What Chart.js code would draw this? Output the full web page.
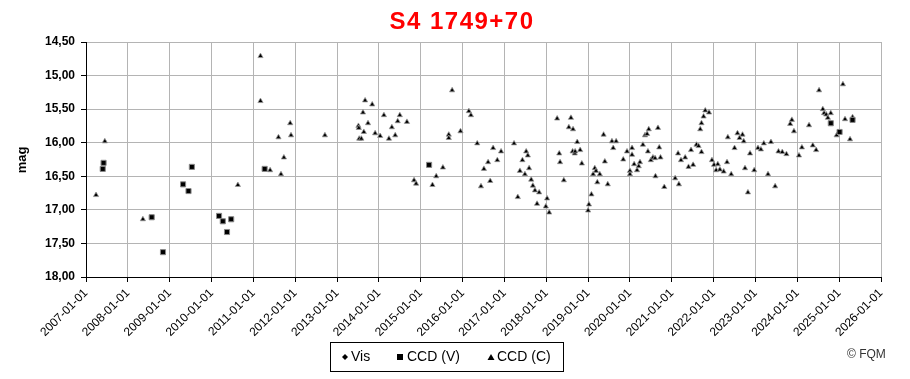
<!DOCTYPE html>
<html>
<head>
<meta charset="utf-8">
<script src="https://cdn.jsdelivr.net/npm/chart.js@4/dist/chart.umd.min.js"></script>
<style>
html,body{margin:0;padding:0;background:#fff;}
#wrap{width:910px;height:379px;position:relative;}
</style>
</head>
<body>
<div id="wrap"><canvas id="c" width="910" height="379"></canvas></div>
<script>
const TITLE = 'S4 1749+70';
const Y_LABEL = 'mag';
const X_MIN = 2007, X_MAX = 2026;
const Y_MIN = 14.5, Y_MAX = 18.0, Y_STEP = 0.5;

// Vis (no visible points)
const visDates = [];
const visMags = [];

// CCD (V)
const ccdvDates = [2007.40, 2007.42, 2008.57, 2008.84, 2009.32, 2009.45, 2009.53, 2010.18, 2010.27, 2010.37, 2010.47, 2011.27, 2015.20, 2024.80, 2025.01, 2025.32];
const ccdvMags  = [16.39, 16.30, 17.11, 17.63, 16.62, 16.72, 16.36, 17.09, 17.17, 17.33, 17.14, 16.39, 16.33, 15.71, 15.84, 15.66];

// CCD (C)
const ccdcDates = [
 2007.24, 2007.45, 2008.36, 2010.63, 2011.17, 2011.17, 2011.40, 2011.60, 2011.66, 2011.73, 2011.88, 2011.90,
 2012.71, 2013.51, 2013.53, 2013.58, 2013.52, 2013.62, 2013.64, 2013.67, 2013.74, 2013.84, 2013.91, 2014.03,
 2014.12, 2014.24, 2014.31, 2014.39, 2014.45, 2014.50, 2014.67, 2014.84, 2014.89, 2015.28, 2015.37, 2015.53,
 2015.67, 2015.67, 2015.75, 2015.95, 2016.15, 2016.20, 2016.35, 2016.44, 2016.51, 2016.61, 2016.66, 2016.73,
 2016.83, 2016.92, 2017.23, 2017.32, 2017.37, 2017.43, 2017.49, 2017.52, 2017.56, 2017.59, 2017.64, 2017.68,
 2017.73, 2017.78, 2017.83, 2017.99, 2018.02, 2018.07, 2018.26, 2018.31, 2018.33, 2018.42, 2018.54, 2018.59,
 2018.63, 2018.64, 2018.68, 2018.69, 2018.74, 2018.81, 2018.85, 2019.00, 2019.02, 2019.08, 2019.12, 2019.16,
 2019.19, 2019.22, 2019.28, 2019.37, 2019.40, 2019.47, 2019.57, 2019.60, 2019.67, 2019.84, 2019.93, 2020.00,
 2020.00, 2020.05, 2020.05, 2020.10, 2020.17, 2020.21, 2020.24, 2020.31, 2020.36, 2020.41, 2020.43, 2020.45,
 2020.50, 2020.55, 2020.60, 2020.61, 2020.67, 2020.70, 2020.73, 2020.82, 2021.08, 2021.15, 2021.17, 2021.22,
 2021.32, 2021.40, 2021.46, 2021.51, 2021.59, 2021.64, 2021.68, 2021.71, 2021.71, 2021.76, 2021.80, 2021.89,
 2021.96, 2022.01, 2022.06, 2022.10, 2022.15, 2022.24, 2022.32, 2022.34, 2022.42, 2022.50, 2022.57, 2022.62,
 2022.69, 2022.72, 2022.75, 2022.82, 2022.87, 2022.97, 2023.06, 2023.13, 2023.20, 2023.30, 2023.37, 2023.47,
 2023.55, 2023.64, 2023.74, 2023.83, 2023.87, 2023.92, 2024.04, 2024.11, 2024.28, 2024.37, 2024.45, 2024.52,
 2024.61, 2024.64, 2024.69, 2024.73, 2024.80, 2024.94, 2025.09, 2025.14, 2025.26, 2025.32
];
const ccdcMags = [
 16.78, 15.98, 17.14, 16.63, 14.71, 15.38, 16.41, 15.92, 16.47, 16.22, 15.71, 15.89,
 15.89, 15.75, 15.94, 15.94, 15.78, 15.55, 15.84, 15.37, 15.71, 15.43, 15.86, 15.90,
 15.59, 15.94, 15.77, 15.89, 15.68, 15.59, 15.69, 16.56, 16.61, 16.63, 16.50, 16.37,
 15.88, 15.93, 15.22, 15.83, 15.53, 15.59, 16.01, 16.65, 16.39, 16.29, 16.57, 16.08,
 16.26, 16.13, 16.01, 16.81, 16.42, 16.26, 16.47, 16.13, 16.19, 16.38, 16.55, 16.64,
 16.71, 16.91, 16.74, 16.95, 16.83, 17.04, 15.64, 16.16, 16.29, 16.56, 15.77, 15.63,
 16.13, 15.80, 16.16, 16.13, 15.99, 16.11, 16.31, 17.01, 16.92, 16.77, 16.47, 16.38,
 16.42, 16.59, 16.47, 15.88, 16.28, 16.62, 15.98, 16.08, 15.98, 16.25, 16.13, 16.42,
 16.47, 16.08, 16.18, 16.32, 16.41, 16.35, 16.29, 16.03, 15.89, 15.87, 16.13, 15.80,
 16.26, 16.22, 16.23, 16.50, 15.78, 16.07, 16.22, 16.66, 16.53, 16.16, 16.62, 16.26,
 16.22, 16.36, 16.11, 16.33, 16.03, 16.05, 15.80, 16.14, 15.71, 15.61, 15.52, 15.55,
 16.26, 16.33, 16.41, 16.32, 16.40, 16.43, 16.29, 15.92, 16.47, 16.08, 15.86, 15.93,
 15.88, 15.98, 16.38, 16.74, 16.16, 16.41, 16.08, 16.10, 16.01, 16.47, 15.99, 16.65,
 16.13, 16.14, 16.17, 15.72, 15.66, 15.83, 16.19, 16.07, 15.74, 16.04, 16.11, 15.22,
 15.50, 15.56, 15.58, 15.63, 15.56, 15.89, 15.13, 15.65, 15.95, 15.62
];

const LEGEND_LABELS = ['Vis', 'CCD (V)', 'CCD (C)'];
const COPYRIGHT = '\u00A9 FQM';

function pts(xs, ys){ return xs.map((x,i)=>({x:x, y:ys[i]})); }

const FONT = '"Liberation Sans", Arial, sans-serif';

const overlay = {
  id: 'overlay',
  afterDraw(chart){
    const ctx = chart.ctx;
    ctx.save();
    // title
    ctx.fillStyle = '#ff0000';
    ctx.font = 'bold 24px ' + FONT;
    ctx.textAlign = 'center';
    ctx.textBaseline = 'middle';
    try { ctx.letterSpacing = '1.5px'; } catch(e) {}
    ctx.fillText(TITLE, 462, 22);
    try { ctx.letterSpacing = '0px'; } catch(e) {}
    // y label
    ctx.save();
    ctx.fillStyle = '#000';
    ctx.font = 'bold 13px ' + FONT;
    ctx.translate(22, 160);
    ctx.rotate(-Math.PI/2);
    ctx.fillText(Y_LABEL, 0, 0);
    ctx.restore();
    // legend box
    ctx.strokeStyle = '#000';
    ctx.lineWidth = 1;
    ctx.strokeRect(330.5, 342.5, 233, 29);
    ctx.fillStyle = '#000';
    ctx.font = '14px ' + FONT;
    ctx.textAlign = 'left';
    const ly = 357;
    // diamond
    ctx.beginPath();
    ctx.moveTo(345, ly-3); ctx.lineTo(348, ly); ctx.lineTo(345, ly+3); ctx.lineTo(342, ly); ctx.closePath(); ctx.fill();
    ctx.fillText(LEGEND_LABELS[0], 351, ly);
    ctx.fillRect(397, ly-3, 6, 6);
    ctx.fillText(LEGEND_LABELS[1], 407, ly);
    ctx.beginPath();
    ctx.moveTo(491, ly-3); ctx.lineTo(494.5, ly+3); ctx.lineTo(487.5, ly+3); ctx.closePath(); ctx.fill();
    ctx.fillText(LEGEND_LABELS[2], 497, ly);
    // copyright
    ctx.fillStyle = '#333';
    ctx.font = '12px ' + FONT;
    ctx.fillText(COPYRIGHT, 847, 355);
    ctx.restore();
  }
};

new Chart(document.getElementById('c'), {
  type: 'scatter',
  data: {
    datasets: [
      { label: LEGEND_LABELS[0], data: pts(visDates, visMags), pointStyle: 'rectRot', pointRadius: 3.5,
        backgroundColor: '#000', borderColor: '#000', borderWidth: 0 },
      { label: LEGEND_LABELS[1], data: pts(ccdvDates, ccdvMags), pointStyle: 'rect', pointRadius: 3.6,
        backgroundColor: '#000', borderColor: '#888', borderWidth: 1 },
      { label: LEGEND_LABELS[2], data: pts(ccdcDates, ccdcMags), pointStyle: 'triangle', pointRadius: 3,
        backgroundColor: '#000', borderColor: '#999', borderWidth: 0.8 }
    ]
  },
  options: {
    responsive: false,
    animation: false,
    devicePixelRatio: 1,
    layout: { padding: { top: 42, right: 29, left: 0, bottom: 0 } },
    plugins: { legend: { display: false }, title: { display: false }, tooltip: { enabled: false } },
    scales: {
      x: {
        type: 'linear', min: X_MIN, max: X_MAX,
        afterFit(s){ s.height = 102; },
        grid: { color: '#b4b4b4', tickColor: '#000', tickLength: 5, lineWidth: 1 },
        border: { color: '#000', width: 1 },
        ticks: {
          stepSize: 1, autoSkip: false, minRotation: 45, maxRotation: 45, padding: 4,
          color: '#000', font: { family: FONT, size: 12 },
          callback: v => Number.isInteger(v) ? v + '-01-01' : ''
        }
      },
      y: {
        type: 'linear', min: Y_MIN, max: Y_MAX, reverse: true,
        afterFit(s){ s.width = 86; },
        grid: { color: '#b4b4b4', tickColor: '#000', tickLength: 5, lineWidth: 1 },
        border: { color: '#000', width: 1 },
        ticks: {
          stepSize: Y_STEP, padding: 6, color: '#000', font: { family: FONT, size: 12, weight: 'bold' },
          callback: v => v.toFixed(2).replace('.', ',')
        }
      }
    }
  },
  plugins: [overlay]
});
</script>
</body>
</html>
